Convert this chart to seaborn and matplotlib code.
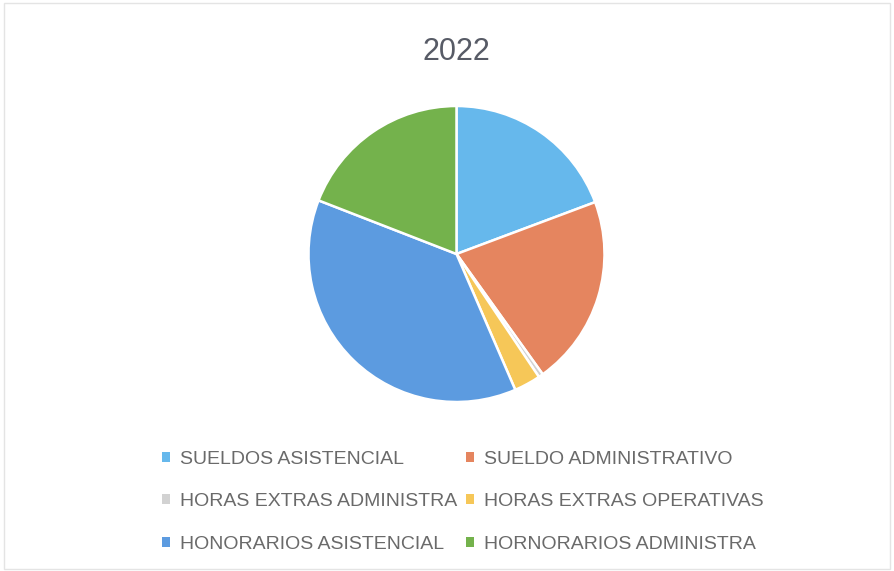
import matplotlib
matplotlib.use("Agg")
import matplotlib.pyplot as plt
from matplotlib.patches import Patch, Rectangle
import seaborn as sns

sns.set_theme(style="white")
plt.rcParams['font.family'] = ['Liberation Sans', 'DejaVu Sans']

title = "2022"
categories = ["SUELDOS ASISTENCIAL", "SUELDO ADMINISTRATIVO", "HORAS EXTRAS ADMINISTRA",
              "HORAS EXTRAS OPERATIVAS", "HONORARIOS ASISTENCIAL", "HORNORARIOS ADMINISTRA"]
values = [19.3, 20.8, 0.5, 2.9, 37.4, 19.1]
colors = ["#66B8EC", "#E5855F", "#D2D2D2", "#F6C758", "#5C9BE0", "#74B24C"]
text_color = "#6A6A6A"

W, H = 894, 571
fig = plt.figure(figsize=(W / 100, H / 100), dpi=100)
fig.patch.set_facecolor("white")

cx, cy, r = 456.5, 254, 148
ax = fig.add_axes([(cx - r) / W, (H - cy - r) / H, 2 * r / W, 2 * r / H])
ax.pie(values, colors=colors, startangle=90, counterclock=False, radius=1,
       wedgeprops=dict(edgecolor="white", linewidth=1.8))
ax.set_xlim(-1, 1)
ax.set_ylim(-1, 1)
ax.set_aspect("equal")
ax.axis("off")

fig.text(cx / W, 1 - 52 / H, title, ha="center", va="center", fontsize=22,
         color="#575B66")

# legend, row-wise order in two columns
order = [0, 2, 4, 1, 3, 5]
handles = [Patch(facecolor=colors[i], edgecolor="none") for i in order]
labels = [categories[i] for i in order]
fs = 14
leg = fig.legend(handles, labels, ncol=2, loc="upper left",
                 bbox_to_anchor=(162 / W, 1 - 450.5 / H),
                 frameon=False, fontsize=fs, labelcolor=text_color,
                 borderpad=0, borderaxespad=0,
                 handlelength=0.42, handleheight=0.42, handletextpad=0.5,
                 columnspacing=0.45, labelspacing=1.33)

fig.patches.append(Rectangle((0.004, 0.004), 0.992, 0.99, transform=fig.transFigure,
                             fill=False, edgecolor="#E4E4E4", linewidth=1.0))

fig.savefig("out.png", dpi=100, facecolor="white")
